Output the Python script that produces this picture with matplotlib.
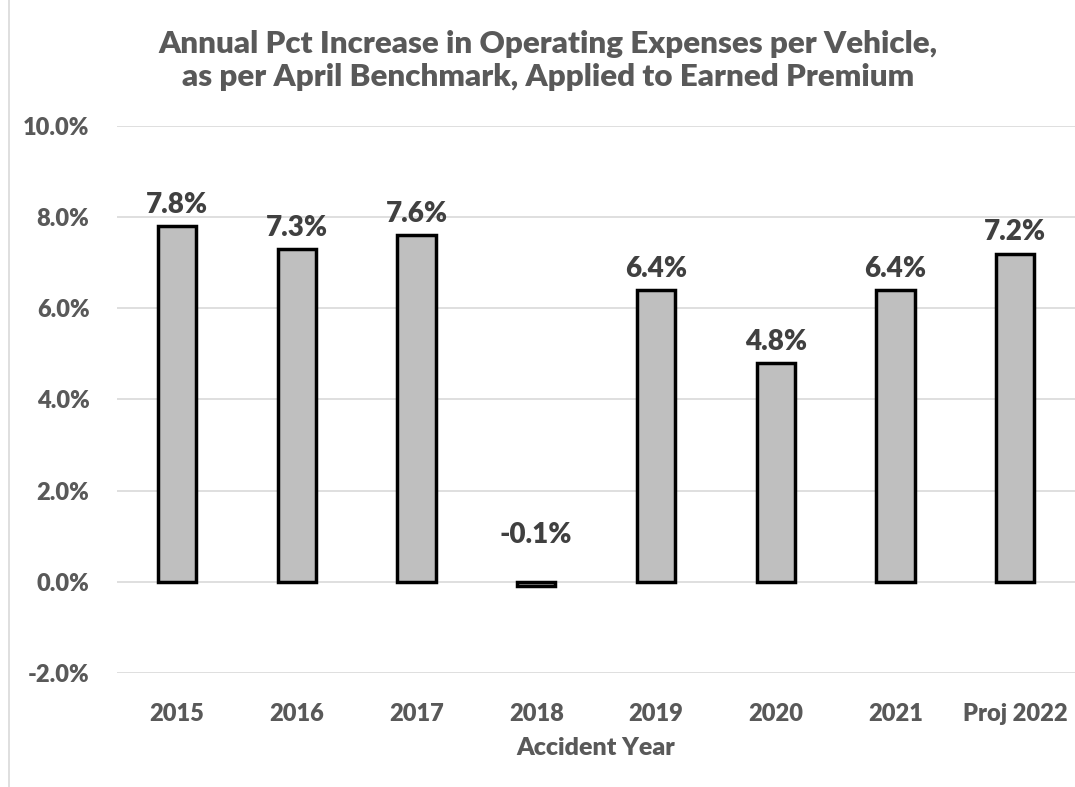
import matplotlib
matplotlib.use("Agg")
import matplotlib.pyplot as plt
from matplotlib.lines import Line2D

years = ["2015", "2016", "2017", "2018", "2019", "2020", "2021", "Proj 2022"]
pct = [7.8, 7.3, 7.6, -0.1, 6.4, 4.8, 6.4, 7.2]
yticks = [-2, 0, 2, 4, 6, 8, 10]

plt.rcParams["font.family"] = ["Lato", "DejaVu Sans"]
W = "heavy"

fig = plt.figure(figsize=(10.75, 7.87), dpi=100)
ax = fig.add_axes([0.109, 0.145, 0.891, 0.695])

x = range(len(years))
ax.bar(x, pct, width=0.32, color="#BFBFBF", edgecolor="black", linewidth=2.5, zorder=3)
for i, v in enumerate(pct):
    ax.annotate(f"{v:.1f}%", (i, max(v, 0)), xytext=(0, 6 if v >= 0 else 24),
                textcoords="offset points", ha="center", va="bottom",
                fontsize=20, fontweight=W, color="#404040")

ax.set_ylim(-2, 10)
ax.set_xlim(-0.5, len(years) - 0.5)
ax.set_yticks(yticks)
ax.set_yticklabels([f"{t:.1f}%" for t in yticks], fontsize=17, fontweight=W, color="#595959")
ax.set_xticks(list(x))
ax.set_xticklabels(years, fontsize=17, fontweight=W, color="#595959")
ax.tick_params(length=0)
ax.tick_params(axis="x", pad=22)
ax.tick_params(axis="y", pad=20)
ax.grid(axis="y", color="#D9D9D9", lw=1.2, zorder=0)
for sp in ax.spines.values():
    sp.set_visible(False)
ax.set_xlabel("Accident Year", fontsize=18, fontweight=W, color="#595959", labelpad=8)

fig.text(0.51, 0.923, "Annual Pct Increase in Operating Expenses per Vehicle,\nas per April Benchmark, Applied to Earned Premium",
         ha="center", va="center", fontsize=22.5, fontweight=W, color="#595959", linespacing=1.2)
fig.add_artist(Line2D([0.008, 0.008], [0, 1], transform=fig.transFigure, color="#D9D9D9", lw=1.2))

fig.savefig("out.png", dpi=100)
